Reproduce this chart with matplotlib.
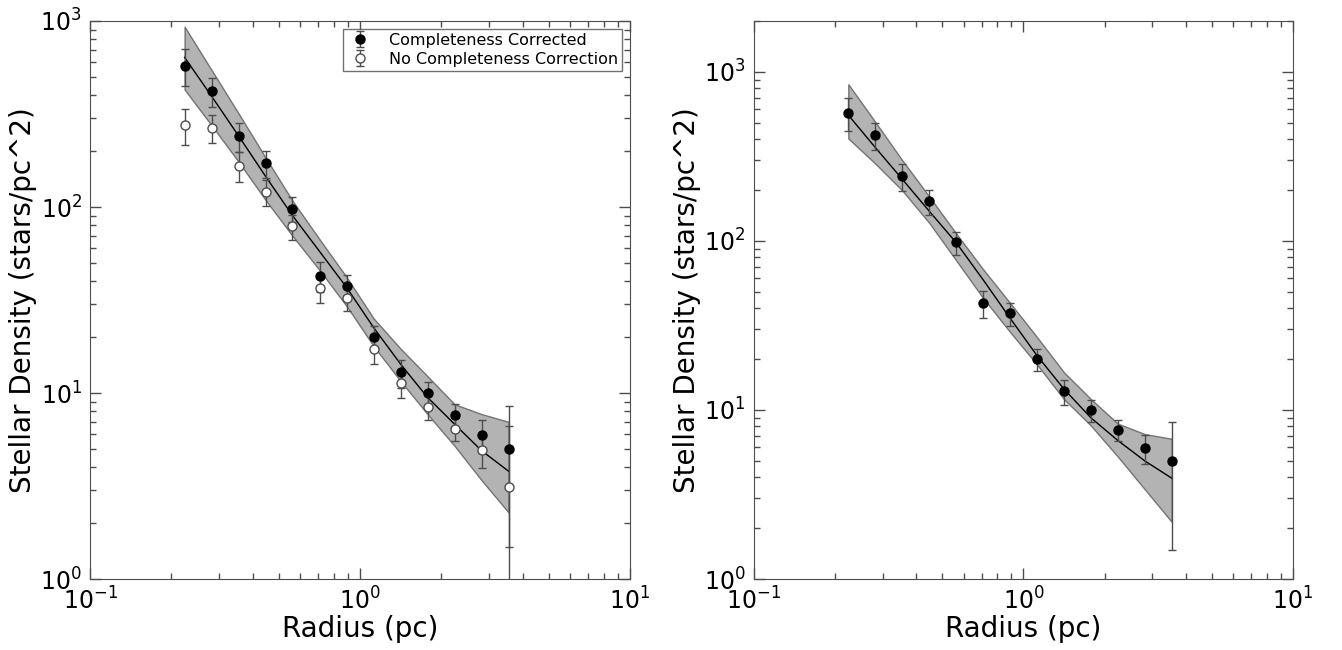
import matplotlib
matplotlib.use("Agg")
import matplotlib.pyplot as plt

# radius bins (pc)
radius = [0.224, 0.282, 0.355, 0.447, 0.562, 0.708, 0.891, 1.122, 1.413, 1.778, 2.239, 2.818, 3.548]

# completeness corrected density and errors
dens_corr = [574, 421, 241, 172, 98, 42.8, 37.4, 19.9, 12.9, 10.0, 7.64, 5.96, 4.99]
err_corr = [129, 75, 43, 29, 15, 7.7, 5.8, 2.9, 2.2, 1.5, 1.1, 1.2, 3.5]

# no completeness correction
dens_raw = [276, 266, 167, 120, 78.6, 36.9, 32.6, 17.3, 11.3, 8.44, 6.42, 4.95, 3.13]
err_raw = [60, 46, 30, 19, 12, 6.6, 5.0, 3.0, 1.9, 1.3, 0.9, 1.0, 3.5]

# fit + band, left panel
fit_left = [637, 394, 241, 146, 90, 57.7, 37, 22.5, 14.3, 9.47, 6.8, 4.9, 3.8]
up_left = [931, 544, 318, 184, 108, 67, 42, 25.2, 17.3, 12.3, 8.7, 7.7, 7.0]
lo_left = [428, 275, 175, 109, 70, 45.8, 29.4, 17.9, 11.6, 7.7, 5.2, 3.4, 2.28]

# fit + band, right panel
fit_right = [555, 357, 232, 150, 98, 59, 35, 21, 13.3, 9.0, 6.6, 5.0, 3.95]
up_right = [844, 505, 300, 183, 111, 68, 43, 27, 16.7, 11.6, 8.3, 7.2, 6.75]
lo_right = [404, 287, 199, 128, 77, 46, 29, 18.6, 11.6, 8.1, 5.3, 3.4, 2.18]

fig = plt.figure(figsize=(13.42, 6.5), dpi=100)
ax1 = fig.add_axes([0.0671, 0.1092, 0.4024, 0.8585])
ax2 = fig.add_axes([0.5618, 0.1092, 0.4017, 0.8585])


def style(ax, ymax):
    ax.set_xscale("log")
    ax.set_yscale("log")
    ax.set_xlim(0.1, 10)
    ax.set_ylim(1, ymax)
    ax.tick_params(which="both", direction="in", top=True, right=True, colors="0.3",
                   labelcolor="black", labelsize=17, width=1)
    ax.tick_params(which="major", length=8, pad=6)
    ax.tick_params(which="minor", length=4)
    for s in ax.spines.values():
        s.set_color("0.3")
    ax.set_xlabel("Radius (pc)", fontsize=20, labelpad=0)
    ax.set_ylabel("Stellar Density (stars/pc^2)", fontsize=20, labelpad=2)


# left panel
ax1.fill_between(radius, lo_left, up_left, facecolor="0.7", edgecolor="0.45", lw=1, zorder=1)
ax1.plot(radius, fit_left, color="black", lw=1, zorder=2)
ax1.errorbar(radius, dens_corr, yerr=err_corr, fmt="o", color="black", ms=6.5,
             ecolor="0.3", elinewidth=1, capsize=3, capthick=1,
             label="Completeness Corrected", zorder=3)
ax1.errorbar(radius, dens_raw, yerr=err_raw, fmt="o", mfc="white", mec="0.3", ms=6.5,
             ecolor="0.3", elinewidth=1, capsize=3, capthick=1,
             label="No Completeness Correction", zorder=3)
style(ax1, 1000)
leg = ax1.legend(loc="upper right", fontsize=11.5, numpoints=1, fancybox=False,
                 frameon=True, borderpad=0.25, labelspacing=0.25, handlelength=1.6,
                 handletextpad=1.0, borderaxespad=0.5)
leg.get_frame().set_edgecolor("0.3")
leg.get_frame().set_linewidth(1)

# right panel
ax2.fill_between(radius, lo_right, up_right, facecolor="0.7", edgecolor="0.45", lw=1, zorder=1)
ax2.plot(radius, fit_right, color="black", lw=1, zorder=2)
ax2.errorbar(radius, dens_corr, yerr=err_corr, fmt="o", color="black", ms=6.5,
             ecolor="0.3", elinewidth=1, capsize=3, capthick=1, zorder=3)
style(ax2, 2000)

fig.savefig("out.png", dpi=100)
